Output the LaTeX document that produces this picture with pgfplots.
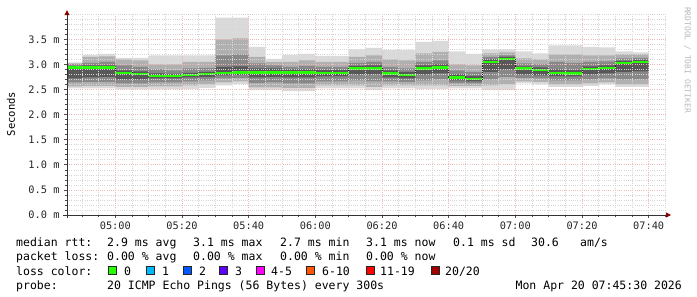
\documentclass[border=0pt]{standalone}
\usepackage{fontspec}
\setmainfont{DejaVu Sans Mono}
\setmonofont{DejaVu Sans Mono}
\usepackage{pgfplots}
\pgfplotsset{compat=1.18}
\usepackage{pgfplotstable}
\usepgfplotslibrary{fillbetween}
\usetikzlibrary{arrows.meta}

\definecolor{arrowred}{HTML}{8B0000}
\definecolor{mgrid}{HTML}{EDB8B8}
\definecolor{ngrid}{HTML}{D6D6D6}
\definecolor{sm1}{HTML}{DADADA}
\definecolor{sm2}{HTML}{B0B0B0}
\definecolor{sm3}{HTML}{888888}
\definecolor{sm4}{HTML}{585858}
\definecolor{medline}{HTML}{202020}
\definecolor{l0}{HTML}{26FF00}
\definecolor{l1}{HTML}{00B8FF}
\definecolor{l2}{HTML}{0059FF}
\definecolor{l3}{HTML}{5E00FF}
\definecolor{l4}{HTML}{FF00FF}
\definecolor{l6}{HTML}{FF5500}
\definecolor{l11}{HTML}{FF0000}
\definecolor{l20}{HTML}{A10000}

% x = minutes since midnight; each row holds until the next row
\pgfplotstableread{
x     med  lo1  hi1  lo2  hi2  lo3  hi3  lo4  hi4
285.5 2.94 2.52 3.04 2.56 3.02 2.64 3.00 2.72 2.96
290   2.94 2.52 3.19 2.57 3.15 2.65 3.03 2.74 2.98
295   2.94 2.52 3.21 2.57 3.16 2.65 3.05 2.75 2.98
300   2.83 2.50 3.13 2.55 3.10 2.62 2.98 2.70 2.88
305   2.81 2.50 3.13 2.55 3.08 2.62 2.95 2.70 2.86
310   2.77 2.50 3.18 2.56 3.00 2.64 2.90 2.72 2.82
315   2.77 2.50 3.18 2.56 3.00 2.64 2.88 2.72 2.81
320   2.79 2.51 3.18 2.58 3.05 2.66 2.92 2.74 2.83
325   2.81 2.53 3.18 2.60 3.05 2.68 2.93 2.75 2.85
330   2.83 2.58 3.93 2.64 3.50 2.72 3.18 2.78 2.95
335   2.84 2.61 3.93 2.66 3.52 2.73 3.20 2.79 2.96
340   2.84 2.49 3.35 2.54 3.15 2.63 3.02 2.74 2.92
345   2.84 2.49 3.11 2.54 3.05 2.64 2.98 2.75 2.92
350   2.84 2.47 3.19 2.53 3.05 2.62 2.95 2.74 2.90
355   2.84 2.47 3.21 2.53 3.08 2.62 2.97 2.74 2.90
360   2.83 2.52 3.17 2.58 3.05 2.66 2.95 2.76 2.89
365   2.83 2.52 3.17 2.58 3.05 2.66 2.95 2.76 2.89
370   2.92 2.52 3.30 2.58 3.15 2.68 3.03 2.80 2.97
375   2.92 2.49 3.33 2.55 3.18 2.66 3.05 2.80 2.98
380   2.82 2.52 3.29 2.58 3.10 2.66 2.95 2.74 2.88
385   2.79 2.52 3.29 2.58 3.08 2.65 2.92 2.72 2.85
390   2.92 2.51 3.45 2.58 3.22 2.68 3.05 2.80 2.98
395   2.94 2.51 3.47 2.58 3.25 2.70 3.08 2.82 3.00
400   2.74 2.52 3.26 2.57 3.00 2.63 2.88 2.68 2.80
405   2.71 2.52 3.21 2.57 2.98 2.62 2.85 2.66 2.77
410   3.05 2.49 3.30 2.58 3.22 2.70 3.15 2.85 3.10
415   3.11 2.49 3.30 2.60 3.24 2.75 3.18 2.90 3.15
420   2.92 2.62 3.26 2.66 3.12 2.73 3.02 2.80 2.96
425   2.89 2.60 3.22 2.65 3.10 2.72 3.00 2.78 2.94
430   2.83 2.55 3.38 2.60 3.20 2.68 3.05 2.76 2.90
435   2.82 2.55 3.38 2.60 3.20 2.68 3.03 2.76 2.89
440   2.91 2.57 3.35 2.62 3.18 2.70 3.05 2.80 2.96
445   2.93 2.60 3.34 2.64 3.18 2.72 3.06 2.82 2.98
450   3.03 2.55 3.26 2.60 3.20 2.70 3.12 2.85 3.07
455   3.05 2.55 3.24 2.60 3.20 2.70 3.13 2.86 3.09
460   3.05 2.55 3.24 2.60 3.20 2.70 3.13 2.86 3.09
}\smoke

\begin{document}
\begin{tikzpicture}[
  lg/.style={anchor=base west, inner sep=0pt, font=\fontsize{11.5bp}{13bp}\selectfont},
  box/.style={draw=black!85, line width=0.8bp}]
\path (0,0) rectangle (697bp,297bp);
\begin{axis}[
  at={(67bp,82bp)}, anchor=south west,
  scale only axis, width=600bp, height=200.8bp,
  xmin=285.5, xmax=465.5, ymin=0, ymax=4,
  axis x line*=bottom, axis y line*=left,
  axis line style={black!80, line width=0.8bp},
  x axis line style={-{Triangle[length=5bp,width=5bp,color=arrowred]}, shorten >=-4bp, shorten <=-4bp},
  y axis line style={-{Triangle[length=5bp,width=5bp,color=arrowred]}, shorten >=-4bp, shorten <=-3bp},
  axis on top,
  xtick={300,320,...,460},
  xticklabels={05:00,05:20,05:40,06:00,06:20,06:40,07:00,07:20,07:40},
  minor xtick={290,295,...,465},
  ytick={0,0.5,1,1.5,2,2.5,3,3.5},
  yticklabels={0.0 m,0.5 m,1.0 m,1.5 m,2.0 m,2.5 m,3.0 m,3.5 m},
  minor ytick={0.1,0.2,0.3,0.4,0.6,0.7,0.8,0.9,1.1,1.2,1.3,1.4,1.6,1.7,1.8,1.9,2.1,2.2,2.3,2.4,2.6,2.7,2.8,2.9,3.1,3.2,3.3,3.4,3.6,3.7,3.8,3.9,4.0},
  grid=both,
  major grid style={mgrid, line width=0.6bp, dash pattern=on 1bp off 1.2bp},
  minor grid style={ngrid, line width=0.6bp, dash pattern=on 1bp off 1.2bp},
  tick align=outside, major tick length=3bp, minor tick length=2.5bp,
  tick style={black!70, line width=0.6bp},
  tick label style={font=\fontsize{10.3bp}{12bp}\selectfont, text=black!85},
  xticklabel style={yshift=-0.5bp},
  yticklabel style={xshift=-1bp},
]
\addplot[const plot mark left, draw=none, name path=hi1] table[x=x,y=hi1]{\smoke};
\addplot[const plot mark left, draw=none, name path=lo1] table[x=x,y=lo1]{\smoke};
\addplot[const plot mark left, draw=none, name path=hi2] table[x=x,y=hi2]{\smoke};
\addplot[const plot mark left, draw=none, name path=lo2] table[x=x,y=lo2]{\smoke};
\addplot[const plot mark left, draw=none, name path=hi3] table[x=x,y=hi3]{\smoke};
\addplot[const plot mark left, draw=none, name path=lo3] table[x=x,y=lo3]{\smoke};
\addplot[const plot mark left, draw=none, name path=hi4] table[x=x,y=hi4]{\smoke};
\addplot[const plot mark left, draw=none, name path=lo4] table[x=x,y=lo4]{\smoke};
\addplot[sm1, draw=none] fill between[of=hi1 and lo1];
\addplot[sm2, draw=none] fill between[of=hi2 and lo2];
\addplot[sm3, draw=none] fill between[of=hi3 and lo3];
\addplot[sm4, draw=none] fill between[of=hi4 and lo4];
\addplot[const plot mark left, medline, line width=0.9bp, mark=none] table[x=x,y=med]{\smoke};
\addplot[jump mark left, l0, line width=2.4bp, mark=none] table[x=x,y=med]{\smoke};
\end{axis}

\node[rotate=90, inner sep=0pt, font=\fontsize{10.5bp}{12bp}\selectfont] at (11bp,183bp) {Seconds};
\node[rotate=-90, inner sep=0pt, text=black!28, font=\fontsize{8bp}{9bp}\selectfont] at (687.5bp,237bp) {RRDTOOL / TOBI OETIKER};

% row 1
\node[lg] at (16bp,50.5bp) {median rtt:};
\node[lg] at (107bp,50.5bp) {2.9 ms avg};
\node[lg] at (193bp,50.5bp) {3.1 ms max};
\node[lg] at (280bp,50.5bp) {2.7 ms min};
\node[lg] at (366bp,50.5bp) {3.1 ms now};
\node[lg] at (453bp,50.5bp) {0.1 ms sd};
\node[lg] at (531bp,50.5bp) {30.6};
\node[lg] at (580bp,50.5bp) {am/s};
% row 2
\node[lg] at (16bp,36.2bp) {packet loss:};
\node[lg] at (107bp,36.2bp) {0.00 \% avg};
\node[lg] at (193bp,36.2bp) {0.00 \% max};
\node[lg] at (280bp,36.2bp) {0.00 \% min};
\node[lg] at (366bp,36.2bp) {0.00 \% now};
% row 3
\node[lg] at (16bp,22bp) {loss color:};
\filldraw[box, fill=l0]  (108bp,22.5bp) rectangle (116bp,30.5bp);
\filldraw[box, fill=l1]  (146bp,22.5bp) rectangle (154bp,30.5bp);
\filldraw[box, fill=l2]  (183bp,22.5bp) rectangle (191bp,30.5bp);
\filldraw[box, fill=l3]  (219bp,22.5bp) rectangle (227bp,30.5bp);
\filldraw[box, fill=l4]  (256bp,22.5bp) rectangle (264bp,30.5bp);
\filldraw[box, fill=l6]  (306bp,22.5bp) rectangle (314bp,30.5bp);
\filldraw[box, fill=l11] (366bp,22.5bp) rectangle (374bp,30.5bp);
\filldraw[box, fill=l20] (431bp,22.5bp) rectangle (439bp,30.5bp);
\node[lg] at (124bp,22bp) {0};
\node[lg] at (162bp,22bp) {1};
\node[lg] at (199bp,22bp) {2};
\node[lg] at (235bp,22bp) {3};
\node[lg] at (271bp,22bp) {4-5};
\node[lg] at (322bp,22bp) {6-10};
\node[lg] at (380bp,22bp) {11-19};
\node[lg] at (445bp,22bp) {20/20};
% row 4
\node[lg] at (16bp,7.7bp) {probe:};
\node[lg] at (107bp,7.7bp) {20 ICMP Echo Pings (56 Bytes) every 300s};
\node[lg, anchor=base east] at (682bp,7.7bp) {Mon Apr 20 07:45:30 2026};
\end{tikzpicture}
\end{document}
